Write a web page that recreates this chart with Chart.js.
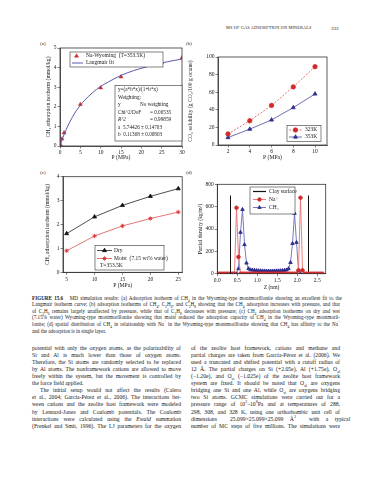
<!DOCTYPE html>
<html><head><meta charset="utf-8">
<script src="https://cdn.jsdelivr.net/npm/chart.js@4/dist/chart.umd.min.js"></script>
<style>
html,body{margin:0;padding:0;background:#fff;}
body{width:370px;height:480px;position:relative;overflow:hidden;font-family:"Liberation Serif","DejaVu Serif",serif;color:#1a1a1a;}
canvas{position:absolute;}
.t{position:absolute;white-space:nowrap;line-height:1;}
.cap{font-size:5.15px;}
.bd{font-size:5.7px;}
sub,sup{font-size:70%;line-height:0;}
</style></head><body>
<div class="t" style="left:226px;top:26px;font-size:4.3px;letter-spacing:0.15px">MS OF GAS ADSORPTION ON MINERALS</div>
<div class="t" style="left:331px;top:25.5px;font-size:5px">333</div>
<div class="t" style="left:40px;top:40.5px;font-size:5px">(a)</div>
<div class="t" style="left:186px;top:40.5px;font-size:5px">(b)</div>
<div class="t" style="left:40px;top:169.5px;font-size:5px">(c)</div>
<div class="t" style="left:186px;top:169.5px;font-size:5px">(d)</div>
<canvas id="ca"></canvas><canvas id="cb"></canvas><canvas id="cc"></canvas><canvas id="cd"></canvas>

<div class="t cap j" data-w="308" style="left:32px;top:295.5px"><b>FIGURE 15.6</b>&nbsp;&nbsp; MD simulation results: (a) Adsorption isotherm of CH<sub>4</sub> in the Wyoming-type montmorillonite showing an excellent fit to the</div>
<div class="t cap j" data-w="308" style="left:32px;top:302.1px">Langmuir isotherm curve; (b) adsorption isotherms of CH<sub>4</sub>, C<sub>2</sub>H<sub>6</sub>, and C<sub>3</sub>H<sub>8</sub> showing that the CH<sub>4</sub> adsorption increases with pressure, and that</div>
<div class="t cap j" data-w="308" style="left:32px;top:308.7px">of C<sub>2</sub>H<sub>6</sub> remains largely unaffected by pressure, while that of C<sub>3</sub>H<sub>8</sub> decreases with pressure; (c) CH<sub>4</sub> adsorption isotherms on dry and wet</div>
<div class="t cap j" data-w="308" style="left:32px;top:315.3px">(7.15% water) Wyoming-type montmorillonite showing that moist reduced the adsorption capacity of CH<sub>4</sub> in the Wyoming-type montmoril-</div>
<div class="t cap j" data-w="308" style="left:32px;top:321.9px">lonite; (d) spatial distribution of CH<sub>4</sub> in relationship with Na<sup>+</sup> in the Wyoming-type montmorillonite showing that CH<sub>4</sub> has affinity to the Na<sup>+</sup></div>
<div class="t cap" style="left:32px;top:328.5px">and the adsorption is in single layer.</div>

<div class="t bd j" data-w="149" style="left:32px;top:345.6px">potential with only the oxygen atoms, as the polarizability of</div>
<div class="t bd j" data-w="149" style="left:32px;top:352.7px">Si and Al is much lower than those of oxygen atoms.</div>
<div class="t bd j" data-w="149" style="left:32px;top:359.8px">Therefore, the Si atoms are randomly selected to be replaced</div>
<div class="t bd j" data-w="149" style="left:32px;top:366.9px">by Al atoms. The nonframework cations are allowed to move</div>
<div class="t bd j" data-w="149" style="left:32px;top:374px">freely within the system, but the movement is controlled by</div>
<div class="t bd" style="left:32px;top:381.1px">the force field applied.</div>
<div class="t bd j" data-w="141" style="left:40px;top:388.2px">The initial setup would not affect the results (Calero</div>
<div class="t bd j" data-w="149" style="left:32px;top:395.3px">et al., 2004; García-Pérez et al., 2006). The interactions bet-</div>
<div class="t bd j" data-w="149" style="left:32px;top:402.4px">ween cations and the zeolite host framework were modeled</div>
<div class="t bd j" data-w="149" style="left:32px;top:409.5px">by Lennard-Jones and Coulomb potentials. The Coulomb</div>
<div class="t bd j" data-w="149" style="left:32px;top:416.6px">interactions were calculated using the <i>Ewald</i> summation</div>
<div class="t bd j" data-w="149" style="left:32px;top:423.7px">(Frenkel and Smit, 1996). The LJ parameters for the oxygen</div>

<div class="t bd j" data-w="149" style="left:191px;top:345.6px">of the zeolite host framework, cations and methane and</div>
<div class="t bd j" data-w="149" style="left:191px;top:352.7px">partial charges are taken from García-Pérez et al. (2006). We</div>
<div class="t bd j" data-w="149" style="left:191px;top:359.8px">used a truncated and shifted potential with a cutoff radius of</div>
<div class="t bd j" data-w="149" style="left:191px;top:366.9px">12 Å. The partial charges on Si (+2.05e), Al (+1.75e), O<sub>al</sub></div>
<div class="t bd j" data-w="149" style="left:191px;top:374px">(−1.20e), and O<sub>si</sub> (−1.025e) of the zeolite host framework</div>
<div class="t bd j" data-w="149" style="left:191px;top:381.1px">system are fixed. It should be noted that O<sub>al</sub> are oxygens</div>
<div class="t bd j" data-w="149" style="left:191px;top:388.2px">bridging one Si and one Al, while O<sub>si</sub> are oxygens bridging</div>
<div class="t bd j" data-w="149" style="left:191px;top:395.3px">two Si atoms. GCMC simulations were carried out for a</div>
<div class="t bd j" data-w="149" style="left:191px;top:402.4px">pressure range of 10<sup>2</sup>–10<sup>8</sup>Pa and at temperatures of 288,</div>
<div class="t bd j" data-w="149" style="left:191px;top:409.5px">298, 308, and 328 K, using one orthorhombic unit cell of</div>
<div class="t bd j" data-w="149" style="left:191px;top:416.6px">dimensions &nbsp;25.099×25.099×25.099 Å<sup>3</sup>&nbsp; with a typical</div>
<div class="t bd j" data-w="149" style="left:191px;top:423.7px">number of MC steps of five millions. The simulations were</div>

<script>
// ---------- (a) CH4 adsorption isotherm, Na-Wyoming ----------
const aPressure = [0.1, 0.5, 1, 5, 10, 15, 25, 30];
const aUptake   = [0.07, 0.36, 0.67, 2.12, 2.97, 3.53, 4.27, 4.5];
const aFitP     = [0, 0.5, 1, 2, 3, 4, 5, 6, 8, 10, 12, 15, 18, 21, 25, 28, 30];
const aFitY     = [0, 0.31, 0.58, 1.06, 1.45, 1.8, 2.07, 2.32, 2.72, 3.04, 3.28, 3.6, 3.84, 4.02, 4.24, 4.36, 4.44];
const aXTicks   = [0, 5, 10, 15, 20, 25, 30];
const aYTicks   = [0, 1, 2, 3, 4, 5];
const aStats    = ["y=(a*b*x)/(1+b*x)", "Weighting:", "y", "Chi^2/DoF", "R^2", "a  5.74426 ± 0.14703", "b  0.11308 ± 0.00803"];
// ---------- (b) CO2 solubility ----------
const bPressure = [2, 4, 6, 8, 10];
const b323K     = [12.5, 27.5, 45, 66, 89];
const b353K     = [8.5, 18, 28.5, 42.5, 58];
const bXTicks   = [2, 4, 6, 8, 10];
const bYTicks   = [0, 20, 40, 60, 80, 100];
// ---------- (c) dry vs moist ----------
const cPressure = [5, 10, 15, 20, 25];
const cDry      = [1.62, 2.32, 2.8, 3.18, 3.5];
const cMoist    = [0.9, 1.52, 1.94, 2.25, 2.52];
const cXTicks   = [5, 10, 15, 20, 25];
const cYTicks   = [0, 1, 2, 3, 4];
// ---------- (d) partial density ----------
const dNaZ   = [0.03,0.08,0.13,0.18,0.23,0.28,0.33,0.38,0.43,0.48,0.53,0.58,0.63,0.68,0.73,0.78,0.83,0.88,0.93,0.98,1.03,1.08,1.13,1.18,1.23,1.28,1.33,1.38,1.43,1.48,1.53,1.58,1.63,1.68,1.73,1.78,1.83,1.88,1.93,1.98,2.03,2.08,2.13,2.18,2.23,2.28,2.33,2.38,2.43,2.48,2.53,2.58,2.63];
const dNa    = [0,0,0,0,0,0,0,0,0,590,150,0,0,0,0,0,0,0,0,0,0,0,0,0,0,0,0,0,0,0,0,0,0,0,0,0,0,0,0,0,30,680,30,0,0,0,0,0,0,0,0,0,0];
const dCh4Z  = [0.48,0.53,0.58,0.63,0.68,0.73,0.78,0.83,0.88,0.93,0.98,1.03,1.08,1.13,1.18,1.23,1.28,1.33,1.38,1.43,1.48,1.53,1.58,1.63,1.68,1.73,1.78,1.83,1.88,1.93,1.98,2.03,2.08];
const dCh4   = [0,45,370,575,260,95,45,35,32,30,28,27,26,25,25,24,24,24,24,25,25,26,27,28,30,33,45,100,270,540,280,30,0];
const dClayZ = [0.33, 2.28];
const dClayTop = 700;
const dXTicks = [0, 0.5, 1, 1.5, 2, 2.5];
const dYTicks = [0, 200, 400, 600, 800];

const RED = '#d22a2a', NAVY = '#2e2e8e', FONT = '"Liberation Serif","DejaVu Serif",serif';
const pts = (xs, ys) => xs.map((x, i) => ({x, y: ys[i]}));

const deco = {
  id: 'deco',
  afterDatasetsDraw(chart, args, o) {
    const ctx = chart.ctx, ca = chart.chartArea;
    const [ox, oy] = o.off;
    ctx.save();
    ctx.strokeStyle = '#333'; ctx.lineWidth = 0.8;
    ctx.strokeRect(ca.left, ca.top, ca.right - ca.left, ca.bottom - ca.top);
    (o.boxes || []).forEach(b => {
      ctx.fillStyle = '#fff'; ctx.fillRect(b[0]-ox, b[1]-oy, b[2]-b[0], b[3]-b[1]);
      ctx.strokeStyle = '#333'; ctx.lineWidth = 0.6; ctx.strokeRect(b[0]-ox, b[1]-oy, b[2]-b[0], b[3]-b[1]);
    });
    ctx.textBaseline = 'middle';
    (o.items || []).forEach(it => {
      const y = it.y - oy;
      if (it.ds != null) {
        const ds = chart.data.datasets[it.ds];
        if (!it.noLine) {
          ctx.save(); ctx.strokeStyle = ds.borderColor; ctx.lineWidth = it.lw || ds.borderWidth;
          ctx.setLineDash(ds.borderDash || []);
          ctx.beginPath(); ctx.moveTo(it.l0-ox, y); ctx.lineTo(it.l1-ox, y); ctx.stroke(); ctx.restore();
        }
        if (ds.pointRadius > 0) {
          ctx.save(); ctx.fillStyle = ds.pointBackgroundColor; ctx.strokeStyle = ds.pointBorderColor; ctx.lineWidth = ds.pointBorderWidth || 0.8;
          Chart.helpers.drawPoint(ctx, {pointStyle: ds.pointStyle, radius: ds.pointRadius, rotation: 0, borderWidth: ds.pointBorderWidth || 0.8}, (it.l0+it.l1)/2-ox, y);
          ctx.restore();
        }
      }
      ctx.fillStyle = '#1a1a1a';
      ctx.font = (it.style || '') + ' ' + (it.size || 5.5) + 'px ' + FONT;
      ctx.fillText(it.text, it.tx - ox, y);
    });
    ctx.restore();
  }
};

function makeChart(id, box, plot, datasets, sc) {
  const cv = document.getElementById(id);
  cv.style.left = box[0] + 'px'; cv.style.top = box[1] + 'px';
  cv.width = box[2]; cv.height = box[3];
  const yW = plot[0] - box[0], topPad = plot[1] - box[1], rightPad = box[0] + box[2] - plot[2], xH = box[1] + box[3] - plot[3];
  const tickFont = {family: FONT, size: 5.5};
  const grid = {display: true, drawOnChartArea: false, drawTicks: true, tickLength: 2.5, color: '#333', lineWidth: 0.6};
  return new Chart(cv, {
    type: 'scatter',
    data: {datasets},
    plugins: [deco],
    options: {
      responsive: false, animation: false, devicePixelRatio: 1,
      layout: {padding: {left: 0, top: topPad, right: rightPad, bottom: 0}},
      plugins: {legend: {display: false}, tooltip: {enabled: false}, deco: Object.assign({off: [box[0], box[1]]}, sc.deco)},
      scales: {
        x: {type: 'linear', min: sc.xmin, max: sc.xmax,
            afterBuildTicks: s => { s.ticks = sc.xticks.map(v => ({value: v})); },
            afterFit: s => { s.height = xH; },
            ticks: {font: tickFont, color: '#1a1a1a', padding: 1, autoSkip: false, maxRotation: 0, callback: sc.xfmt || (v => v)},
            grid, border: {display: true, color: '#333', width: 0.8},
            title: {display: true, text: sc.xtitle, font: {family: FONT, size: 5.6}, color: '#1a1a1a', padding: {top: 0, bottom: sc.xtp}}},
        y: {type: 'linear', min: sc.ymin, max: sc.ymax,
            afterBuildTicks: s => { s.ticks = sc.yticks.map(v => ({value: v})); },
            afterFit: s => { s.width = yW; },
            ticks: {font: tickFont, color: '#1a1a1a', padding: 1, autoSkip: false},
            grid, border: {display: true, color: '#333', width: 0.8},
            title: {display: true, text: sc.ytitle, font: {family: FONT, size: 5.6}, color: '#1a1a1a', padding: {top: sc.ytp, bottom: 0}}}
      }
    }
  });
}

// (a)
makeChart('ca', [20, 38, 167, 130], [60, 48, 182, 146], [
  {data: pts(aFitP, aFitY), showLine: true, borderColor: '#4848a0', borderWidth: 0.9, pointRadius: 0, cubicInterpolationMode: 'monotone'},
  {data: pts(aPressure, aUptake), showLine: false, pointStyle: 'triangle', pointRadius: 2.3, pointBackgroundColor: RED, pointBorderColor: RED, pointBorderWidth: 0.5, borderColor: RED}
], {xmin: 0, xmax: 30, ymin: 0, ymax: 5, xticks: aXTicks, yticks: aYTicks,
    xtitle: 'P (MPa)', ytitle: 'CH₄ adsorption isotherm (mmol/kg)', xtp: 6.7, ytp: 24.7,
    deco: {boxes: [[70, 52, 163, 67], [115, 85.5, 182, 141]], items: [
      {ds: 1, noLine: true, l0: 76.5, l1: 76.5, y: 56, tx: 86, text: 'Na-Wyoming  (T=353.5K)'},
      {ds: 0, l0: 72, l1: 83, y: 63, tx: 86, text: 'Langmuir fit'},
      {y: 90, tx: 118, text: aStats[0], size: 5.2},
      {y: 97.5, tx: 118, text: aStats[1], size: 5.2},
      {y: 105, tx: 118, text: aStats[2], size: 5.2},
      {y: 105, tx: 140, text: 'No weighting', size: 5.2},
      {y: 112.5, tx: 118, text: aStats[3], size: 5.2},
      {y: 112.5, tx: 150, text: '= 0.00535', size: 5.2},
      {y: 120, tx: 118, text: aStats[4], size: 5.2, style: 'italic'},
      {y: 120, tx: 150, text: '= 0.99859', size: 5.2},
      {y: 127.5, tx: 118, text: aStats[5], size: 5.2},
      {y: 135, tx: 118, text: aStats[6], size: 5.2}
    ]}});

// (b)
makeChart('cb', [185, 38, 149, 130], [218, 57, 327, 145], [
  {data: pts(bPressure, b323K), showLine: true, borderColor: '#e05050', borderWidth: 0.8, borderDash: [2, 1.5], pointStyle: 'circle', pointRadius: 2.2, pointBackgroundColor: RED, pointBorderColor: RED},
  {data: pts(bPressure, b353K), showLine: true, borderColor: '#4a4aa0', borderWidth: 0.8, pointStyle: 'triangle', pointRadius: 2.3, pointBackgroundColor: NAVY, pointBorderColor: NAVY}
], {xmin: 1.08, xmax: 11.1, ymin: 0, ymax: 100, xticks: bXTicks, yticks: bYTicks,
    xtitle: 'P (MPa)', ytitle: 'CO₂ solubility (g CO₂/100 g octane)', xtp: 6.7, ytp: 1.7,
    deco: {boxes: [[287, 125.5, 321, 141.5]], items: [
      {ds: 0, l0: 289, l1: 302, y: 130, tx: 305, text: '323K'},
      {ds: 1, l0: 289, l1: 302, y: 137, tx: 305, text: '353K'}
    ]}});

// (c)
makeChart('cc', [20, 168, 167, 126], [63, 176.7, 184, 272.3], [
  {data: pts(cPressure, cDry), showLine: true, borderColor: '#222', borderWidth: 0.8, pointStyle: 'triangle', pointRadius: 2.3, pointBackgroundColor: '#111', pointBorderColor: '#111'},
  {data: pts(cPressure, cMoist), showLine: true, borderColor: '#e05050', borderWidth: 0.8, pointStyle: 'star', pointRadius: 2.2, pointBackgroundColor: RED, pointBorderColor: RED, pointBorderWidth: 0.8}
], {xmin: 4.35, xmax: 25.7, ymin: 0, ymax: 4, xticks: cXTicks, yticks: cYTicks,
    xtitle: 'P (MPa)', ytitle: 'CH₄ adsorption isotherm (mmol/kg)', xtp: 4.7, ytp: 24.4,
    deco: {boxes: [[95, 245.5, 164, 270]], items: [
      {ds: 0, l0: 97, l1: 112, y: 250.5, tx: 114, text: 'Dry'},
      {ds: 1, l0: 97, l1: 112, y: 258.5, tx: 114, text: 'Moist  (7.15 wt% water)'},
      {y: 266, tx: 100, text: 'T=353.5K'}
    ]}});

// (d)
makeChart('cd', [185, 168, 149, 126], [217.3, 184.3, 325.7, 273.7], [
  {data: [{x: dClayZ[0], y: 0}, {x: dClayZ[0], y: dClayTop}], showLine: true, borderColor: '#111', borderWidth: 1, pointRadius: 0},
  {data: pts(dNaZ, dNa), showLine: true, borderColor: '#e87070', borderWidth: 0.9, pointStyle: 'circle', pointRadius: 1.8, pointBackgroundColor: RED, pointBorderColor: RED},
  {data: pts(dCh4Z, dCh4), showLine: true, borderColor: '#6a6ab8', borderWidth: 0.9, pointStyle: 'triangle', pointRadius: 2, pointBackgroundColor: NAVY, pointBorderColor: NAVY},
  {data: [{x: dClayZ[1], y: 0}, {x: dClayZ[1], y: dClayTop}], showLine: true, borderColor: '#111', borderWidth: 1, pointRadius: 0}
], {xmin: 0, xmax: 2.71, ymin: 0, ymax: 800, xticks: dXTicks, yticks: dYTicks, xfmt: v => v.toFixed(1),
    xtitle: 'Z (nm)', ytitle: 'Partial density (kg/m³)', xtp: 3.4, ytp: 11.7,
    deco: {boxes: [[250, 187, 295, 214]], items: [
      {ds: 0, l0: 253, l1: 266, y: 191.5, tx: 269, text: 'Clay surface', lw: 1.2},
      {ds: 1, l0: 253, l1: 266, y: 199.5, tx: 269, text: 'Na⁺'},
      {ds: 2, l0: 253, l1: 266, y: 207.5, tx: 269, text: 'CH₄'}
    ]}});

// justify text lines
document.querySelectorAll('.j').forEach(el => {
  const target = +el.dataset.w;
  const nat = el.getBoundingClientRect().width;
  const spaces = (el.textContent.match(/ /g) || []).length;
  if (spaces) el.style.wordSpacing = ((target - nat) / spaces) + 'px';
});
</script>
</body></html>
